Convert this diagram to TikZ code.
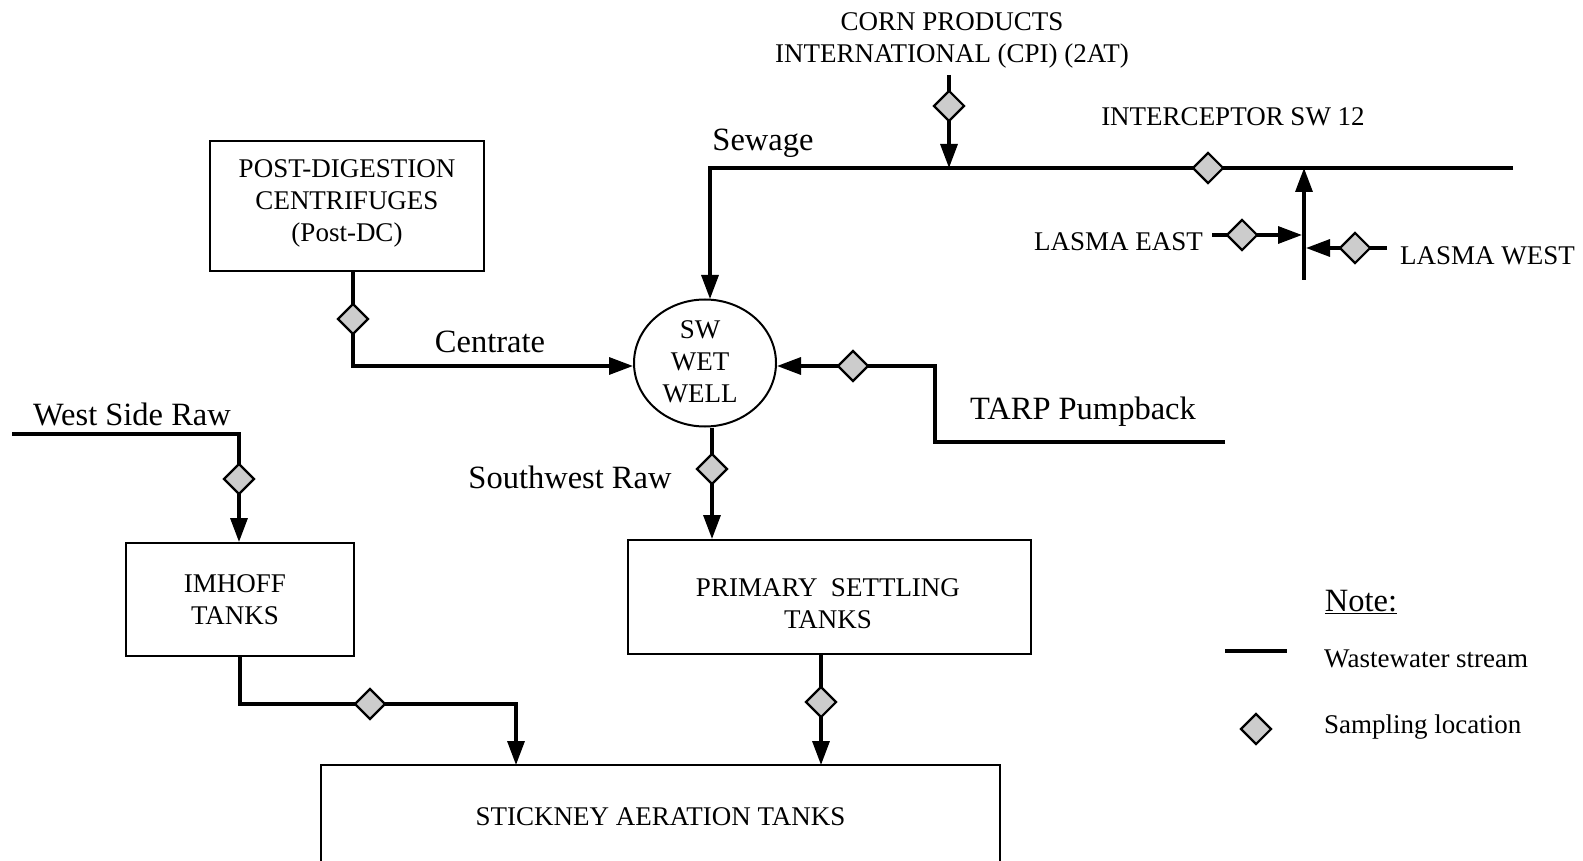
\documentclass[tikz,border=0pt]{standalone}
\usepackage{fontspec}
\setmainfont{Liberation Serif}
\usetikzlibrary{arrows.meta,shapes.geometric}
\newcommand\capsz{\fontsize{27}{32}\selectfont}
\newcommand\labsz{\fontsize{32.5}{36}\selectfont}
\tikzset{
 flow/.style={line width=3.3pt, line join=miter},
 arr/.style={-{Triangle[length=24pt,width=17pt]}},
 box/.style={draw, line width=2pt, rectangle, inner sep=0, align=center, font=\capsz},
 samp/.style={diamond, draw, line width=2.2pt, fill=gray!40, minimum width=31pt, minimum height=31pt, inner sep=0},
 captext/.style={inner sep=0, font=\capsz, align=center},
 labtext/.style={inner sep=0, font=\labsz},
}
\begin{document}
\begin{tikzpicture}[x=1pt,y=-1pt]
\useasboundingbox[fill=white] (0,0) rectangle (1583,861);
% nodes
\node[captext] (cpi) at (952,40) {CORN PRODUCTS\\INTERNATIONAL (CPI) (2AT)};
\node[captext] (intc) at (1233,117) {INTERCEPTOR SW 12};
\node[labtext] (sew) at (763,143) {Sewage};
\node[box, minimum width=274pt, minimum height=130pt] (pdc) at (347,206) {};
\node[captext] (pdct) at (347,203) {POST-DIGESTION\\CENTRIFUGES\\(Post-DC)};
\node[ellipse, draw, line width=2pt, minimum width=142pt, minimum height=127pt, inner sep=0] (well) at (705,363) {};
\node[captext] (wellt) at (700,362) {SW\\WET\\WELL};
\node[labtext] (cent) at (490,342) {Centrate};
\node[labtext] (tarp) at (1083,412) {TARP Pumpback};
\node[labtext] (wsr) at (132,414) {West Side Raw};
\node[labtext] (swr) at (570,477) {Southwest Raw};
\node[captext, anchor=east] (le) at (1203,242) {LASMA EAST};
\node[captext, anchor=west] (lw) at (1400,256) {LASMA WEST};
\node[box, minimum width=228pt, minimum height=113pt] (imh) at (240,599.5) {};
\node[captext] (imht) at (235,600) {IMHOFF\\TANKS};
\node[box, minimum width=403pt, minimum height=114pt] (pst) at (829.5,597) {};
\node[captext] (pstt) at (828,604) {PRIMARY\ \ SETTLING\\TANKS};
\node[box, minimum width=679pt, minimum height=104pt] (aer) at (660.5,817) {STICKNEY AERATION TANKS};
\node[labtext] (note) at (1361,602) {\underline{Note:}};
\node[captext, anchor=west] (ws) at (1324,659) {Wastewater stream};
\node[captext, anchor=west] (sl) at (1324,727) {Sampling location};
% coordinates
\coordinate (cpiS) at (949,75);
\coordinate (cpiE) at (949,168);
\coordinate (topR) at (1513,168);
\coordinate (sewC) at (710,168);
\coordinate (lvB) at (1304,280);
\coordinate (lvT) at (1304,168);
\coordinate (leS) at (1212,235);
\coordinate (leE) at (1302,235);
\coordinate (lwS) at (1387,248);
\coordinate (lwE) at (1306,248);
\coordinate (pdcS) at (353,271);
\coordinate (pdcC) at (353,366);
\coordinate (tarpR) at (1225,442);
\coordinate (tarpC) at (935,442);
\coordinate (tarpT) at (935,366);
\coordinate (swx) at (712,0);
\coordinate (wsrS) at (12,434);
\coordinate (wsrC) at (239,434);
\coordinate (imhS) at (240,656);
\coordinate (imhC1) at (240,704);
\coordinate (imhC2) at (516,704);
\coordinate (aerA) at (516,765);
\coordinate (pstS) at (821,654);
\coordinate (aerB) at (821,765);
\coordinate (leg1) at (1225,651);
\coordinate (leg2) at (1287,651);
% connectors
\draw[flow,arr] (cpiS) -- (cpiE);
\draw[flow,arr] (topR) -- (sewC) -- ([yshift=-0.5pt]sewC |- well.north);
\draw[flow,arr] (lvB) -- (lvT);
\draw[flow,arr] (leS) -- (leE);
\draw[flow,arr] (lwS) -- (lwE);
\draw[flow,arr] (pdcS) -- (pdcC) -- (pdcC -| well.west);
\draw[flow,arr] (tarpR) -- (tarpC) -- (tarpT) -- (tarpT -| well.east);
\draw[flow,arr] ([yshift=-0.5pt]well.south -| swx) -- (swx |- pst.north);
\draw[flow,arr] (wsrS) -- (wsrC) -- (wsrC |- imh.north);
\draw[flow,arr] (imhS) -- (imhC1) -- (imhC2) -- (aerA);
\draw[flow,arr] (pstS) -- (aerB);
\draw[flow] (leg1) -- (leg2);
% sampling points
\node[samp] (d1) at (949,106) {};
\node[samp] (d2) at (1208,168) {};
\node[samp] (d3) at (1242,235) {};
\node[samp] (d4) at (1355,248) {};
\node[samp] (d5) at (353,319) {};
\node[samp] (d6) at (853,366) {};
\node[samp] (d7) at (712,469) {};
\node[samp] (d8) at (239,479) {};
\node[samp] (d9) at (370,704) {};
\node[samp] (d10) at (821,702) {};
\node[samp] (d11) at (1256,729) {};
\end{tikzpicture}
\end{document}
